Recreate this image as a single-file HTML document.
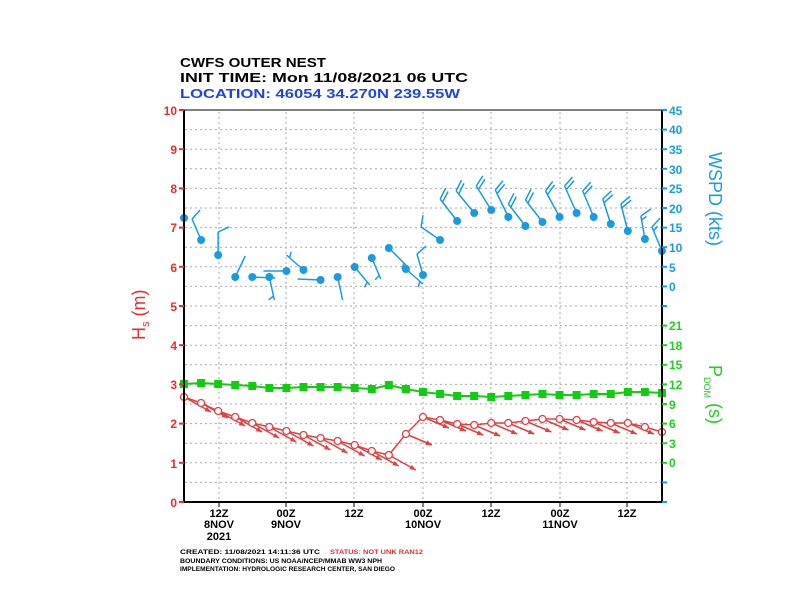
<!DOCTYPE html>
<html><head><meta charset="utf-8"><style>
html,body{margin:0;padding:0;background:#fff;}
svg{display:block;font-family:"Liberation Sans",sans-serif;}
</style></head><body>
<svg id="s" width="792" height="612" viewBox="0 0 792 612" xmlns="http://www.w3.org/2000/svg">
<rect width="792" height="612" fill="#fff"/>
<g id="grid" stroke="#aaa" stroke-width="1" stroke-dasharray="2,3"></g>
<g id="data"></g>
<g stroke="#000" stroke-width="2" fill="none">
<line x1="184" y1="110" x2="184" y2="502"/>
<line x1="184" y1="502" x2="662" y2="502"/>
<line x1="184" y1="110" x2="662" y2="110" stroke-width="1"/>
<line x1="662" y1="110" x2="662" y2="502"/>
</g>
<g id="ticks"></g>
<g font-size="13" font-weight="bold">
<text x="180" y="67" textLength="146" lengthAdjust="spacingAndGlyphs">CWFS OUTER NEST</text>
<text x="180" y="82" textLength="288" lengthAdjust="spacingAndGlyphs">INIT TIME: Mon 11/08/2021 06 UTC</text>
<text x="180" y="98" fill="#2244dd" textLength="280" lengthAdjust="spacingAndGlyphs">LOCATION: 46054 34.270N 239.55W</text>
</g>
<g font-size="12" font-weight="bold" fill="#e03030" text-anchor="end">
<text x="177" y="115">10</text><text x="177" y="154">9</text><text x="177" y="193">8</text><text x="177" y="232">7</text><text x="177" y="272">6</text><text x="177" y="311">5</text><text x="177" y="350">4</text><text x="177" y="389">3</text><text x="177" y="428">2</text><text x="177" y="468">1</text><text x="177" y="507">0</text>
</g>
<g font-size="12" font-weight="bold" fill="#1a9be0">
<text x="669" y="115">45</text><text x="669" y="134">40</text><text x="669" y="154">35</text><text x="669" y="174">30</text><text x="669" y="193">25</text><text x="669" y="213">20</text><text x="669" y="232">15</text><text x="669" y="252">10</text><text x="669" y="272">5</text><text x="669" y="291">0</text>
</g>
<g font-size="12" font-weight="bold" fill="#22cc22">
<text x="669" y="330">21</text><text x="669" y="350">18</text><text x="669" y="369">15</text><text x="669" y="389">12</text><text x="669" y="409">9</text><text x="669" y="428">6</text><text x="669" y="448">3</text><text x="669" y="467">0</text>
</g>
<text transform="translate(145,340) rotate(-90)" font-size="18" fill="#e03030">H<tspan font-size="11" dy="4">s</tspan><tspan dy="-4"> (m)</tspan></text>
<text transform="translate(709,152) rotate(90)" font-size="18" fill="#1a9be0">WSPD (kts)</text>
<text transform="translate(709,365) rotate(90)" font-size="18" fill="#22cc22">P<tspan font-size="9" dy="5">DOM</tspan><tspan dy="-5">  (s)</tspan></text>
<g font-size="11" font-weight="bold" text-anchor="middle">
<text x="219" y="517">12Z</text><text x="219" y="528">8NOV</text><text x="219" y="540">2021</text>
<text x="286" y="517">00Z</text><text x="286" y="528">9NOV</text>
<text x="354" y="517">12Z</text>
<text x="423" y="517">00Z</text><text x="423" y="528">10NOV</text>
<text x="491" y="517">12Z</text>
<text x="560" y="517">00Z</text><text x="560" y="528">11NOV</text>
<text x="627" y="517">12Z</text>
</g>
<g font-size="6" font-weight="bold">
<text x="180" y="554" textLength="140" lengthAdjust="spacingAndGlyphs">CREATED: 11/08/2021 14:11:36 UTC</text>
<text x="330" y="554" fill="#e03030" textLength="93" lengthAdjust="spacingAndGlyphs">STATUS: NOT UNK RAN12</text>
<text x="180" y="563" textLength="202" lengthAdjust="spacingAndGlyphs">BOUNDARY CONDITIONS: US NOAA/NCEP/MMAB WW3 NPH</text>
<text x="180" y="571" textLength="215" lengthAdjust="spacingAndGlyphs">IMPLEMENTATION: HYDROLOGIC RESEARCH CENTER, SAN DIEGO</text>
</g>
</svg>
<script>
var NS="http://www.w3.org/2000/svg";
function el(p,t,a){var e=document.createElementNS(NS,t);for(var k in a)e.setAttribute(k,a[k]);p.appendChild(e);return e;}
var grid=document.getElementById('grid'),data=document.getElementById('data'),ticks=document.getElementById('ticks');
[219,286,354,423,491,560,627].forEach(function(x){el(grid,'line',{x1:x,y1:112,x2:x,y2:501});el(ticks,'line',{x1:x,y1:502,x2:x,y2:507,stroke:'#000','stroke-width':1});});
for(var i=1;i<20;i++){var y=502-i*19.6;el(grid,'line',{x1:185,y1:y,x2:661,y2:y});}
for(var i=0;i<=10;i++){var y=502-i*39.2;el(ticks,'line',{x1:179,y1:y,x2:184,y2:y,stroke:'#e03030','stroke-width':2});}
for(var i=0;i<=20;i++){var y=110+i*19.6;el(ticks,'line',{x1:662,y1:y,x2:667,y2:y,stroke:(i>=11&&i<=18)?'#22cc22':'#1a9be0','stroke-width':2});}
var X=function(i){return 184+i*17.07;};
var hs=[397,403,411,417,423,427,431,435,438,441,445,451,455,434,417,420,424,425,423,423,421,419,419,420,422,423,423,427,432];
var pd=[384,383,384,385,386,388,388,387,387,387,388,389,385,389,392,394,396,396,397,396,395,394,395,395,394,394,392,392,393];
var wy=[218,240,255,277,277,277,271,270,280,277,267,258,248,269,275,240,221,213,210,217,226,222,217,213,217,224,231,239,251];
var we=[[8,-8],[-9,-21],[0,-23],[10,-21],[23,1],[5,23],[-23,0],[-17,-15],[-23,-1],[5,23],[15,18],[9,21],[18,18],[17,15],[-6,-21],[-19,-13],[-17,-22],[-18,-22],[-15,-24],[-13,-27],[-17,-22],[-17,-22],[-14,-26],[-12,-27],[-11,-26],[-8,-25],[-7,-27],[-4,-23],[-10,-24]];
var wb=[1,1,1,0,0,0.5,0,0.5,0,0,0.5,0.5,0.5,0.5,1,1,2,2,2,2,2,2,2,2,2,2,2,1.5,1.5];
var red='#e04040',grn='#11cc11',blu='#1a9be0';
for(var i=0;i<29;i++){var x=X(i),y=hs[i];var dx=i<13?27:26,dy=i<13?15:11;var ex=x+dx,ey=y+dy;
 if(ex>662){continue;}
 el(data,'line',{x1:x,y1:y,x2:ex,y2:ey,stroke:red,'stroke-width':1.5});
 var L=Math.hypot(dx,dy),ux=dx/L,uy=dy/L;
 el(data,'polygon',{points:ex+','+ey+' '+(ex-6*ux-2.5*uy)+','+(ey-6*uy+2.5*ux)+' '+(ex-6*ux+2.5*uy)+','+(ey-6*uy-2.5*ux),fill:red});}
el(data,'polyline',{points:hs.map(function(y,i){return X(i)+','+y;}).join(' '),fill:'none',stroke:red,'stroke-width':1.5});
hs.forEach(function(y,i){el(data,'circle',{cx:X(i),cy:y,r:3.5,fill:'#fff',stroke:red,'stroke-width':1.3});});
el(data,'polyline',{points:pd.map(function(y,i){return X(i)+','+y;}).join(' '),fill:'none',stroke:grn,'stroke-width':2});
pd.forEach(function(y,i){el(data,'rect',{x:X(i)-4,y:y-4,width:8,height:8,fill:grn});});
for(var i=0;i<29;i++){var x=X(i),y=wy[i],d=we[i];var ex=x+d[0],ey=y+d[1];
 if(i>0)el(data,'line',{x1:x,y1:y,x2:ex,y2:ey,stroke:blu,'stroke-width':1.5});
 var L=Math.hypot(d[0],d[1]),ux=d[0]/L,uy=d[1]/L;var a=65*Math.PI/180;
 var bx=ux*Math.cos(a)-uy*Math.sin(a),by=ux*Math.sin(a)+uy*Math.cos(a);
 var n=wb[i];var k=0;
 while(n>0&&i>0){var len=n>=1?12:6;var sx=ex-ux*4*k,sy=ey-uy*4*k;if(n<1&&k==0){sx=ex-ux*4;sy=ey-uy*4;}
  el(data,'line',{x1:sx,y1:sy,x2:sx+bx*len,y2:sy+by*len,stroke:blu,'stroke-width':1.5});n-=1;k++;}
 el(data,'circle',{cx:x,cy:y,r:4,fill:blu});}
</script>
</body></html>
